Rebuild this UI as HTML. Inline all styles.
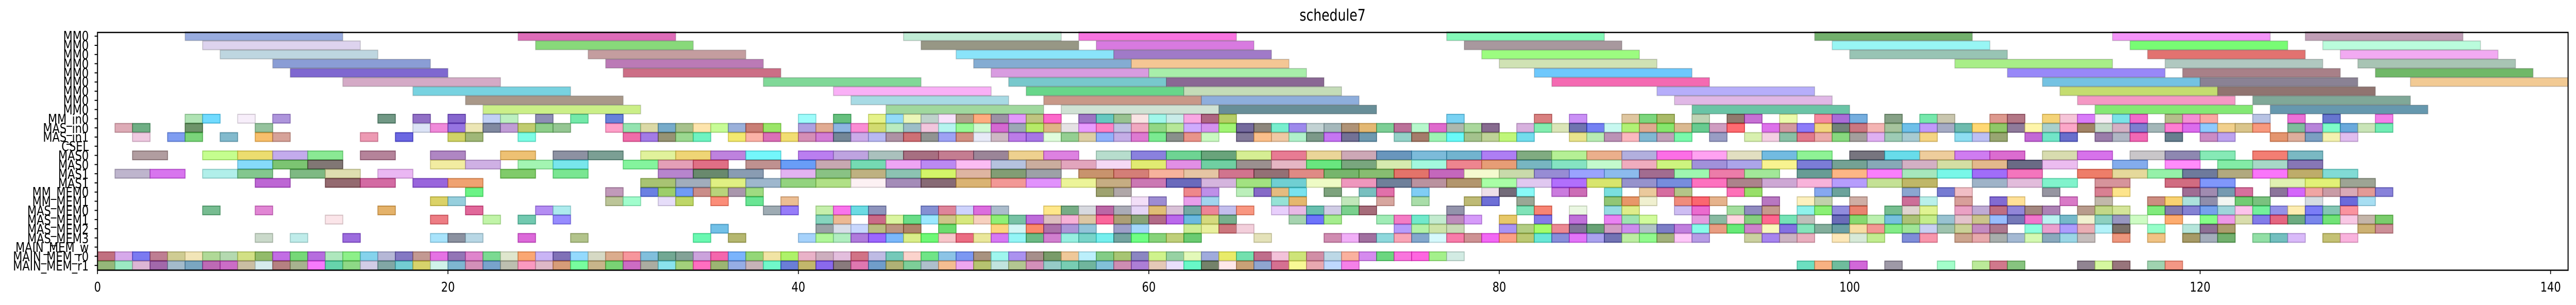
<!DOCTYPE html>
<html><head><meta charset="utf-8">
<style>
html,body{margin:0;padding:0;background:#fff;width:100%;height:100%;overflow:hidden;}
svg{display:block;width:100vw;height:100vh;}
text{font-family:"DejaVu Sans","Liberation Sans",sans-serif;fill:#000;}
</style></head>
<body>
<svg id="s" viewBox="0 0 6182 592" preserveAspectRatio="none" xmlns="http://www.w3.org/2000/svg">
<rect x="0" y="0" width="6182" height="592" fill="#fff"/>
<text x="3198" y="40" font-size="31" text-anchor="middle">schedule7</text>
<g id="cells"></g>
<g id="mm"></g>
<rect x="234" y="63" width="5929" height="461.5" fill="none" stroke="#000" stroke-width="2.5"/>
<g id="ticks" stroke="#000" stroke-width="2"></g>
<g font-size="26" text-anchor="end">
<text x="213" y="79">MM0</text>
<text x="213" y="97">MM0</text>
<text x="213" y="115">MM0</text>
<text x="213" y="133">MM0</text>
<text x="213" y="151">MM0</text>
<text x="213" y="168">MM0</text>
<text x="213" y="186">MM0</text>
<text x="213" y="204">MM0</text>
<text x="213" y="222">MM0</text>
<text x="213" y="240">MM_in0</text>
<text x="213" y="258">MAS_in0</text>
<text x="213" y="275">MAS_in1</text>
<text x="213" y="293">CSEL</text>
<text x="213" y="311">MAS0</text>
<text x="213" y="329">MAS0</text>
<text x="213" y="347">MAS1</text>
<text x="213" y="365">MAS1</text>
<text x="213" y="382">MM_MEM0</text>
<text x="213" y="400">MM_MEM1</text>
<text x="213" y="418">MAS_MEM0</text>
<text x="213" y="436">MAS_MEM1</text>
<text x="213" y="454">MAS_MEM2</text>
<text x="213" y="472">MAS_MEM3</text>
<text x="213" y="489">MAIN_MEM_w</text>
<text x="213" y="507">MAIN_MEM_r0</text>
<text x="213" y="525">MAIN_MEM_r1</text>
</g>
<g font-size="26" text-anchor="middle">
<text x="234" y="566">0</text>
<text x="1075" y="566">20</text>
<text x="1916" y="566">40</text>
<text x="2757" y="566">60</text>
<text x="3598" y="566">80</text>
<text x="4439" y="566">100</text>
<text x="5280" y="566">120</text>
<text x="6121" y="566">140</text>
</g>
</svg>
<script>
(function(){
var NS="http://www.w3.org/2000/svg";
var X=function(u){return 234+u*42.05;};
var Y=function(r){return 70.2+17.8*r-8.5;};
function rect(g,x,y,w,h,fill,stroke){
  var e=document.createElementNS(NS,"rect");
  e.setAttribute("x",x);e.setAttribute("y",y);e.setAttribute("width",w);e.setAttribute("height",h);
  e.setAttribute("fill",fill);e.setAttribute("stroke",stroke);e.setAttribute("stroke-width","2");
  g.appendChild(e);
}
var tg=document.getElementById("ticks");
for(var r=0;r<26;r++){var l=document.createElementNS(NS,"line");var y=70.2+17.8*r;
 l.setAttribute("x1",227);l.setAttribute("x2",234);l.setAttribute("y1",y);l.setAttribute("y2",y);tg.appendChild(l);}
for(var k=0;k<=7;k++){var l=document.createElementNS(NS,"line");var x=X(20*k);
 l.setAttribute("x1",x);l.setAttribute("x2",x);l.setAttribute("y1",525);l.setAttribute("y2",532);tg.appendChild(l);}
var mm=[
[0,5,"#99acdf"],[1,6,"#ddd3ee"],[2,7,"#bed6e0"],[3,10,"#8a9dd5"],[4,11,"#7f68d0"],[5,14,"#d4aac6"],[6,18,"#78d2e0"],[7,21,"#a99889"],[8,22,"#cbef88"],
[0,24,"#de6cb8"],[1,25,"#88d97a"],[2,28,"#c49d9f"],[3,29,"#bb7ab6"],[4,30,"#cc6e86"],[5,38,"#80d898"],[6,42,"#f9b0f6"],[7,43,"#a8dae4"],[8,45,"#a0d89e"],
[0,46,"#c0ecd5"],[1,47,"#979785"],[2,49,"#8ae4fa"],[3,50,"#84acd2"],[4,51,"#d89ce0"],[5,52,"#78c8cc"],[6,53,"#68d68a"],[7,54,"#c89888"],[8,55,"#d0e2d4"],
[0,56,"#f874e0"],[1,57,"#d87ae0"],[2,58,"#a07ac8"],[3,59,"#f4c694"],[4,60,"#a8eeaa"],[5,61,"#8a6894"],[6,62,"#c4dcb8"],[7,63,"#8eaedc"],[8,64,"#688e98"],
[0,77,"#84f8b8"],[1,78,"#a8989e"],[2,79,"#9cfc80"],[3,80,"#d0e2b4"],[4,82,"#6ec8fc"],[5,83,"#f46ab2"],[6,89,"#b6aefa"],[7,90,"#e0b8e6"],[8,91,"#6ac4a6"],
[0,98,"#72b06c"],[1,99,"#98f6f4"],[2,100,"#98c4b4"],[3,106,"#a8ee88"],[4,109,"#9888f8"],[5,111,"#74c2e2"],[6,112,"#c4dc70"],[7,113,"#f498c4"],[8,114,"#84e874"],
[0,115,"#f494f8"],[1,116,"#78fc74"],[2,117,"#e27270"],[3,118,"#b0c8c0"],[4,119,"#a88088"],[5,120,"#8a8294"],[6,121,"#907470"],[7,123,"#80a898"],[8,124,"#6698ae"],
[0,126,"#c09eb6"],[1,127,"#bafcdc"],[2,128,"#f2aaf2"],[3,129,"#a8c4b4"],[4,130,"#70b868"],[5,132,"#f2ca94"]
];
var gm=document.getElementById("mm");
mm.forEach(function(b){rect(gm,X(b[1]),Y(b[0]),9*42.05,17,b[2],"rgba(0,0,0,0.18)");});
var s=12345;function rnd(){s|=0;s=s+0x6D2B79F5|0;var t=Math.imul(s^s>>>15,1|s);t=t+Math.imul(t^t>>>7,61|t)^t;return((t^t>>>14)>>>0)/4294967296;}
function col(){var r=rnd(),g=rnd(),b=rnd();var a=0.6;
 var f=function(c){return Math.round((c*a+(1-a))*255);};
 var d=function(c){return Math.round(c*0.75*255);};
 return ["rgb("+f(r)+","+f(g)+","+f(b)+")","rgba("+d(r)+","+d(g)+","+d(b)+",0.6)"];}
var spec={
9:[[4,30,0.5],[37,45,0.3],[45,65,0.95],[65,76,0.1],[76,100,0.5],[100,131,0.7]],
10:[[1,15,0.55],[18,27,0.9],[29,131,0.92]],
11:[[0,28,0.35],[30,105,0.95],[106,129,0.7]],
17:[[19,22,0.6],[29,36,0.8],[36,57,0.1],[57,100,0.6],[100,119,0.25],[119,131,0.8]],
18:[[19,22,0.6],[29,41,0.7],[41,59,0.02],[59,131,0.45]],
19:[[6,27,0.3],[37,40,0.3],[40,70,0.85],[70,93,0.6],[93,131,0.85]],
20:[[9,27,0.3],[34,41,0.2],[41,60,0.9],[60,72,0.3],[72,131,0.85]],
21:[[35,36,1],[41,61,0.9],[62,66,0.8],[66,74,0.05],[74,122,0.9],[128,131,0.9]],
22:[[6,38,0.2],[40,61,0.9],[61,70,0.35],[70,92,0.95],[94,126,0.8],[127,129,0.5]],
24:[[0,78,1]],
25:[[0,72,1],[97,100,1],[100,119,0.45]]
};
var spec2={
13:[[2,30,0.55],[31,115,0.97],[116,130,0.6]],
14:[[3,17,0.55],[19,28,0.8],[30,114,0.97],[115,127,0.75]],
15:[[1,30,0.4],[32,111,0.97],[113,129,0.85]],
16:[[9,26,0.35],[31,106,0.97],[107,130,0.8]]
};
var gc=document.getElementById("cells");
Object.keys(spec).forEach(function(r){spec[r].forEach(function(seg){
 for(var u=seg[0];u<seg[1];u++){if(rnd()<seg[2]){var c=col();rect(gc,X(u),Y(+r),42.05,17,c[0],c[1]);}}
});});
Object.keys(spec2).forEach(function(r){spec2[r].forEach(function(seg){
 var u=seg[0];while(u+2<=seg[1]+0.01){if(rnd()<seg[2]){var c=col();rect(gc,X(u),Y(+r),84.1,17,c[0],c[1]);u+=2;}else u+=1;}
});});
})();
</script>
</body></html>
